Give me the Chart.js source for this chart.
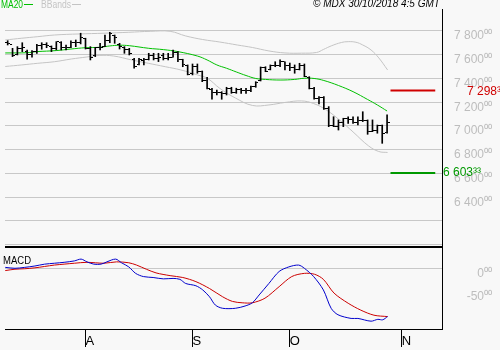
<!DOCTYPE html>
<html>
<head>
<meta charset="utf-8">
<script src="https://cdn.jsdelivr.net/npm/chart.js@4.4.1/dist/chart.umd.min.js"></script>
<style>
    html, body { margin: 0; padding: 0; background: #f8f8f8; }
    canvas { display: block; }
</style>
</head>
<body>
<canvas id="grafica" width="500" height="350"></canvas>
<script>
/* =========================================================
    DATOS (índice = sesión desde el 10/07/2018)
========================================================= */

const opens = [7700, 7690, 7600, 7651, 7630, 7600, 7627, 7676, 7683, 7670, 7655, 7700, 7658, 7663, 7701, 7700,
    7735, 7652, 7590, 7659, 7670, 7718, 7760, 7690, 7660, 7642, 7560, 7520, 7550, 7560, 7591, 7565, 7590, 7564,
    7580, 7617, 7560, 7510, 7440, 7504, 7457, 7383, 7310, 7280, 7279, 7273, 7313, 7282, 7304, 7302, 7300, 7331,
    7380, 7490, 7475, 7507, 7511, 7540, 7510, 7495, 7474, 7510, 7410, 7318, 7233, 7237, 7146, 7007, 6996, 7029,
    7059, 7054, 7027, 7050, 7042, 6956, 6963, 7004, 6945];
const highs = [7718, 7654, 7668, 7701, 7640, 7634, 7688, 7701, 7701, 7674, 7710, 7710, 7682, 7718, 7724, 7781,
    7739, 7668, 7662, 7696, 7766, 7789, 7766, 7696, 7668, 7654, 7570, 7570, 7570, 7612, 7612, 7612, 7612, 7612,
    7640, 7626, 7562, 7514, 7522, 7522, 7463, 7410, 7318, 7303, 7289, 7326, 7326, 7318, 7318, 7318, 7337, 7373,
    7497, 7499, 7514, 7541, 7556, 7541, 7530, 7514, 7528, 7522, 7415, 7326, 7247, 7247, 7163, 7078, 7051, 7065,
    7078, 7078, 7078, 7120, 7051, 7051, 7008, 7008, 7093];
const lows = [7682, 7584, 7598, 7626, 7562, 7579, 7612, 7646, 7659, 7626, 7640, 7640, 7640, 7659, 7668, 7691,
    7648, 7556, 7584, 7640, 7668, 7701, 7696, 7648, 7612, 7598, 7486, 7514, 7514, 7556, 7556, 7542, 7556, 7556,
    7579, 7542, 7499, 7430, 7430, 7444, 7373, 7312, 7225, 7261, 7225, 7261, 7275, 7275, 7275, 7275, 7289, 7326,
    7379, 7457, 7472, 7499, 7499, 7472, 7466, 7444, 7472, 7415, 7312, 7225, 7185, 7140, 6994, 6994, 6966, 6994,
    7022, 7022, 7008, 7037, 6930, 6952, 6939, 6854, 6939];
const closes = [7692, 7592, 7651, 7661, 7600, 7627, 7676, 7683, 7678, 7655, 7709, 7658, 7663, 7701, 7700, 7749,
    7652, 7575, 7659, 7663, 7718, 7776, 7741, 7667, 7642, 7611, 7497, 7556, 7558, 7591, 7565, 7574, 7564, 7577,
    7617, 7563, 7516, 7432, 7504, 7457, 7383, 7318, 7278, 7279, 7273, 7313, 7282, 7304, 7302, 7300, 7331, 7367,
    7490, 7458, 7507, 7511, 7545, 7510, 7495, 7474, 7510, 7418, 7318, 7233, 7237, 7146, 7007, 6996, 7029, 7059,
    7054, 7027, 7050, 7042, 6956, 6963, 7004, 6940, 7027];

// MA20
const maIdx = [-0.5, 4, 6, 10, 13, 16, 19, 21, 23, 25, 29, 32, 35, 39, 41, 43, 45, 47, 49, 51, 53, 56, 59, 61, 63, 65, 68, 71, 74, 76, 78];
const maVal = [7615, 7617, 7626, 7635, 7648, 7659, 7663, 7674, 7680, 7676, 7654, 7643, 7626, 7589, 7556, 7514, 7486, 7455, 7425, 7400, 7392, 7387, 7392, 7402, 7400, 7383, 7341, 7289, 7223, 7177, 7126];

// Bandas de Bollinger
const bbUpIdx = [-0.5, 2.9, 6.2, 9.6, 14.7, 19.8, 24.9, 29.3, 33.4, 36.6, 40.1, 43.6, 47.2, 50.3, 53.7, 57, 60.4, 63.5, 64.9, 66.5, 68.6, 70, 71.6, 73, 74.7, 76.3, 78.1];
const bbUp = [7724, 7739, 7752, 7766, 7775, 7781, 7789, 7797, 7797, 7758, 7728, 7707, 7682, 7661, 7632, 7615, 7613, 7619, 7644, 7674, 7703, 7710, 7705, 7682, 7640, 7573, 7472];
const bbLoIdx = [-0.5, 2.9, 6.2, 9.6, 13.1, 16.3, 18.8, 21.8, 25.5, 28.9, 32.4, 35.6, 39.1, 41.1, 43.6, 46.8, 50.3, 53.7, 57, 60.4, 62.9, 65.5, 68.2, 71, 74.2, 76.3, 78.1];
const bbLo = [7501, 7514, 7528, 7541, 7564, 7581, 7594, 7589, 7556, 7528, 7499, 7472, 7429, 7400, 7317, 7236, 7173, 7177, 7198, 7211, 7189, 7135, 7051, 6950, 6832, 6785, 6777];

// MACD y señal
const macdIdx = [-0.5, 1.5, 3.5, 5.6, 7.6, 9.6, 11.6, 13.7, 15.1, 16.3, 17.7, 19.2, 20.4, 22.2, 23.4, 24.9, 26.3, 27.9, 29.9, 32, 34, 35.4, 36.6, 38.7, 40.1, 41.5, 42.7, 44.2, 46.8, 48.8, 50.3, 51.7, 53.7, 55.8, 57.8, 59.8, 61, 62.9, 64.9, 66.5, 67.9, 70.6, 72, 74.7, 76.1, 77.1, 78.1];
const macdVal = [2, 0, 2, 5, 9, 11, 13, 16, 20, 14, 9, 9, 14, 20, 12, 3, -11, -18, -20, -23, -22, -24, -33, -38, -47, -62, -80, -87, -87, -82, -75, -58, -33, -7, 3, 7, 0, -18, -47, -87, -101, -109, -109, -115, -111, -112, -105];
const sigIdx = [-0.5, 1.5, 3.5, 5.6, 7.6, 9.6, 11.6, 13.7, 16.3, 19.8, 22.4, 24.9, 26.5, 28.5, 30.5, 33.4, 36, 38.7, 41.5, 44.2, 46.2, 48.2, 50.3, 52.9, 55.8, 58.4, 61, 63.1, 64.9, 67.1, 70, 72.6, 75.3, 78.1];
const sigVal = [-5, -2, -1, 1, 4, 7, 9, 11, 13, 11, 14, 12, 7, -2, -10, -16, -20, -29, -44, -62, -72, -75, -75, -65, -40, -18, -11, -13, -24, -54, -76, -91, -102, -105];

// niveles y ejes
const levels = [7298.33, 6603.33];
const levelX = [78.7, 87.9];
const monthTicks = [16, 38, 58, 81];
const monthLabels = ["A", "S", "O", "N"];
const priceTicks = [6000, 6200, 6400, 6600, 6800, 7000, 7200, 7400, 7600, 7800];
const macdTicks = [0, -50];

/* =========================================================
    UTILIDADES
========================================================= */

const FAMILIA = '"Liberation Sans", Arial, sans-serif';
const supDig = "⁰¹²³⁴⁵⁶⁷⁸⁹";
const sup = s => s.replace(/\d/g, d => supDig[+d]);

// 7800 -> "7 800⁰⁰"
function fmt(v) {
    const neg = v < 0;
    const ent = Math.floor(Math.abs(v) + 1e-6);
    const dec = Math.round((Math.abs(v) - ent) * 100);
    let s = String(ent);
    if (s.length > 3) s = s.slice(0, -3) + " " + s.slice(-3);
    return (neg ? "-" : "") + s + sup(String(dec).padStart(2, "0"));
}

function anchoMax(textos) {
    const c = document.createElement("canvas").getContext("2d");
    c.font = "12px " + FAMILIA;
    return Math.max(...textos.map(t => c.measureText(t).width));
}

// marcas de apertura (izq) y cierre (der)
function marca(izq) {
    const cv = document.createElement("canvas");
    cv.width = 5; cv.height = 1;
    const c = cv.getContext("2d");
    c.fillStyle = "#000";
    c.fillRect(izq ? 0 : 3, 0, 2, 1);
    return cv;
}

const pares = (xs, ys) => xs.map((x, i) => ({ x: x, y: ys[i] }));

const anchoPrecio = anchoMax(priceTicks.filter(v => v >= 6400).map(fmt));
const anchoMacd = anchoMax(macdTicks.map(fmt));

/* =========================================================
    TEXTOS EXTRA
========================================================= */

const textos = {
    id: "textos",
    afterDraw(chart) {
        const c = chart.ctx;
        const y = chart.scales.y;
        const area = chart.chartArea;
        c.save();
        c.fillStyle = "#000";
        c.fillRect(area.left, Math.round(y.bottom) - 1, area.right - area.left, 2);

        c.textBaseline = "middle";
        c.font = "10px " + FAMILIA;
        c.fillStyle = "#00c000";
        c.fillText("MA20", 1, 5, 22);
        c.fillRect(24, 4, 9, 1);
        c.fillStyle = "#c4c4c4";
        c.fillText("BBands", 41, 5, 30);
        c.fillRect(72, 4, 9, 1);
        c.fillStyle = "#000";
        c.fillText("MACD", 3, 261, 28);

        c.font = "italic 10px " + FAMILIA;
        c.fillText("© MDX 30/10/2018 4:5 GMT", 313, 4.5, 134);

        c.font = "12px " + FAMILIA;
        c.fillStyle = "#d00000";
        c.fillText(fmt(levels[0]), 467, y.getPixelForValue(levels[0]) + 1);
        c.fillStyle = "#009900";
        c.fillText(fmt(levels[1]), 443, y.getPixelForValue(levels[1]));
        c.restore();
    }
};

/* =========================================================
    GRAFICA
========================================================= */

document.addEventListener("DOMContentLoaded", () => {

    const marcaAbre = marca(true);
    const marcaCierra = marca(false);
    const idx = closes.map((_, i) => i);

    const ejeY = (ancho) => ({
        afterFit: s => {
            s.width = 50;
            s.paddingTop = 0;
            s.paddingBottom = 0;
        },
        grid: { drawTicks: false, color: "#c8c8c8", lineWidth: 1 },
        border: { display: true, color: "#000", width: 1 },
        ticks: {
            crossAlign: "far",
            padding: 50 - ancho,
            autoSkip: false,
            color: "#bdbdbd",
            font: { family: FAMILIA, size: 12, lineHeight: 10 / 12 }
        }
    });

    const yPrecio = ejeY(anchoPrecio);
    Object.assign(yPrecio, {
        type: "linear", position: "right", stack: "p", stackWeight: 238,
        min: 5981, max: 7985,
        afterBuildTicks: s => { s.ticks = priceTicks.map(v => ({ value: v })); }
    });
    yPrecio.ticks.callback = v => v >= 6400 ? ["", fmt(v)] : "";

    const yMacd = ejeY(anchoMacd);
    Object.assign(yMacd, {
        type: "linear", position: "right", stack: "p", stackWeight: 82,
        min: -132, max: 46.3,
        afterBuildTicks: s => { s.ticks = macdTicks.map(v => ({ value: v })); }
    });
    yMacd.ticks.callback = v => ["", fmt(v)];
    yMacd.grid.color = ctx => ctx.tick && ctx.tick.value === 0 ? "#c8c8c8" : "rgba(0,0,0,0)";

    new Chart(document.getElementById("grafica"), {
        type: "bar",
        data: {
            datasets: [
                {
                    label: "Rango",
                    data: idx.map(i => ({ x: i, y: [lows[i], highs[i]] })),
                    backgroundColor: "#000",
                    barThickness: 1,
                    yAxisID: "y",
                    order: 0
                },
                {
                    type: "line", label: "Apertura",
                    data: idx.map(i => ({ x: i, y: opens[i] })),
                    showLine: false, pointStyle: marcaAbre, pointRadius: 1,
                    yAxisID: "y", order: 0
                },
                {
                    type: "line", label: "Cierre",
                    data: idx.map(i => ({ x: i, y: closes[i] })),
                    showLine: false, pointStyle: marcaCierra, pointRadius: 1,
                    yAxisID: "y", order: 0
                },
                {
                    type: "line", label: "MA20",
                    data: pares(maIdx, maVal),
                    borderColor: "#00c000", borderWidth: 1, pointRadius: 0, tension: 0.4,
                    yAxisID: "y", order: 1
                },
                {
                    type: "line", label: "BB sup",
                    data: pares(bbUpIdx, bbUp),
                    borderColor: "#c4c4c4", borderWidth: 1, pointRadius: 0, tension: 0.4,
                    yAxisID: "y", order: 2
                },
                {
                    type: "line", label: "BB inf",
                    data: pares(bbLoIdx, bbLo),
                    borderColor: "#c4c4c4", borderWidth: 1, pointRadius: 0, tension: 0.4,
                    yAxisID: "y", order: 2
                },
                {
                    type: "line", label: "Resistencia",
                    data: pares(levelX, [levels[0], levels[0]]),
                    borderColor: "#d00000", borderWidth: 2, pointRadius: 0,
                    yAxisID: "y", order: 1
                },
                {
                    type: "line", label: "Soporte",
                    data: pares(levelX, [levels[1], levels[1]]),
                    borderColor: "#009900", borderWidth: 2, pointRadius: 0,
                    yAxisID: "y", order: 1
                },
                {
                    type: "line", label: "MACD",
                    data: pares(macdIdx, macdVal),
                    borderColor: "#0000cc", borderWidth: 1, pointRadius: 0, tension: 0.3,
                    yAxisID: "m", order: 1
                },
                {
                    type: "line", label: "Señal",
                    data: pares(sigIdx, sigVal),
                    borderColor: "#cc0000", borderWidth: 1, pointRadius: 0, tension: 0.3,
                    yAxisID: "m", order: 2
                }
            ]
        },
        options: {
            responsive: false,
            animation: false,
            layout: { padding: { top: 9, right: 8, left: 0, bottom: 0 } },
            plugins: {
                legend: { display: false },
                tooltip: { enabled: false }
            },
            scales: {
                x: {
                    type: "linear",
                    min: -0.55,
                    max: 89.29,
                    offset: false,
                    afterBuildTicks: s => { s.ticks = monthTicks.map(v => ({ value: v })); },
                    afterFit: s => {
                        s.height = 21;
                        s.paddingLeft = 0;
                        s.paddingRight = 0;
                    },
                    grid: { offset: false, drawOnChartArea: false, drawTicks: true, tickLength: 18, color: "#000", tickColor: "#000" },
                    border: { display: true, color: "#000", width: 1 },
                    ticks: {
                        align: "start",
                        padding: -13,
                        autoSkip: false,
                        maxRotation: 0,
                        color: "#000",
                        font: { family: FAMILIA, size: 13 },
                        callback: v => monthLabels[monthTicks.indexOf(v)] || ""
                    }
                },
                y: yPrecio,
                m: yMacd
            }
        },
        plugins: [textos]
    });
});
</script>
</body>
</html>
